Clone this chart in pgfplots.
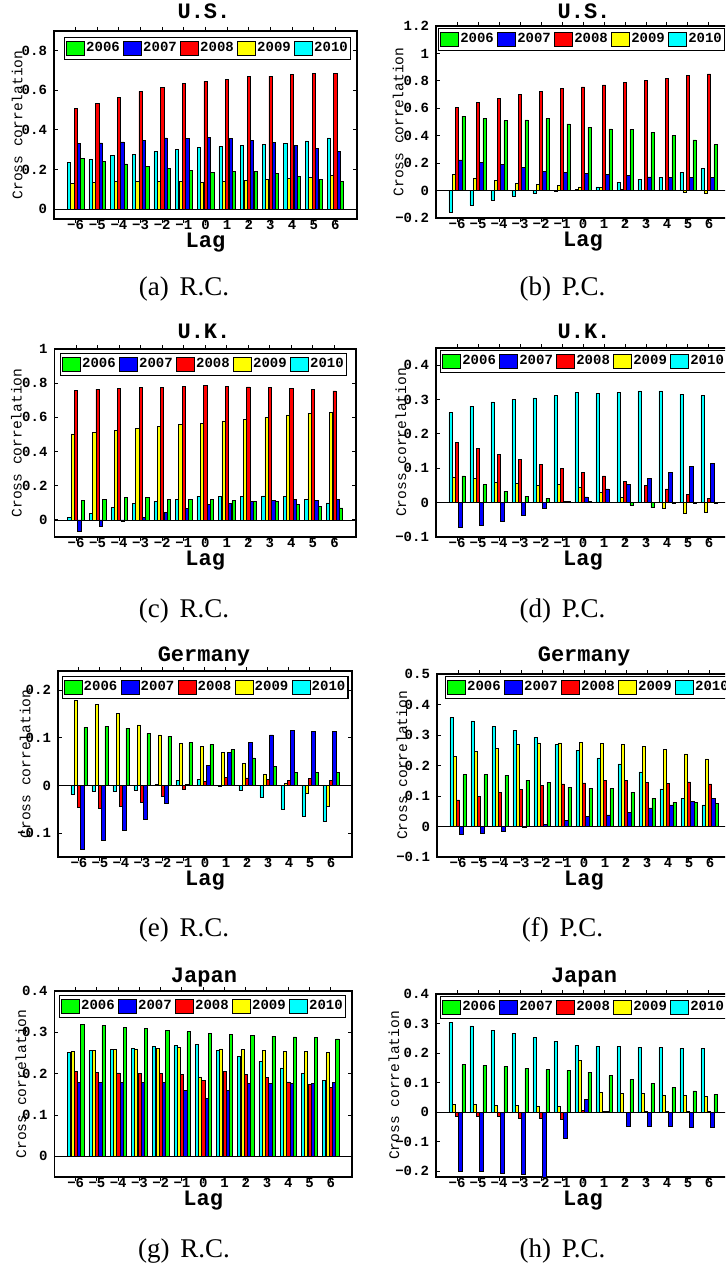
\documentclass[border=0pt]{standalone}
\usepackage{pgfplots}
\pgfplotsset{compat=1.18}
\usepackage{pgfplotstable}
\usepackage{fontspec}
\setmainfont{Liberation Serif}
\newfontfamily\mono{Liberation Mono}

\definecolor{g06}{RGB}{0,255,0}
\definecolor{b07}{RGB}{0,0,255}
\definecolor{r08}{RGB}{255,0,0}
\definecolor{y09}{RGB}{255,255,0}
\definecolor{c10}{RGB}{0,255,255}

% (a) U.S. R.C.
\pgfplotstableread{
lag y06 y07 y08 y09 y10
-6 0.255 0.33 0.51 0.13 0.235
-5 0.24 0.335 0.535 0.135 0.25
-4 0.228 0.34 0.565 0.14 0.27
-3 0.215 0.348 0.595 0.14 0.275
-2 0.205 0.36 0.615 0.14 0.29
-1 0.195 0.357 0.635 0.14 0.30
0 0.187 0.362 0.645 0.135 0.31
1 0.19 0.357 0.655 0.138 0.315
2 0.19 0.347 0.67 0.145 0.32
3 0.18 0.337 0.672 0.15 0.325
4 0.165 0.322 0.68 0.155 0.333
5 0.15 0.308 0.685 0.16 0.345
6 0.14 0.29 0.685 0.17 0.36
}\tabA
% (b) U.S. P.C.
\pgfplotstableread{
lag y06 y07 y08 y09 y10
-6 0.542 0.223 0.608 0.118 -0.157
-5 0.525 0.206 0.64 0.093 -0.108
-4 0.51 0.191 0.672 0.074 -0.069
-3 0.515 0.167 0.70 0.052 -0.039
-2 0.525 0.14 0.724 0.044 -0.022
-1 0.486 0.135 0.745 0.037 -0.003
0 0.46 0.125 0.756 0.027 0.007
1 0.45 0.12 0.77 0.025 0.027
2 0.447 0.113 0.79 0.012 0.059
3 0.425 0.10 0.805 0.003 0.081
4 0.40 0.097 0.82 0.0 0.098
5 0.37 0.095 0.837 -0.01 0.13
6 0.334 0.097 0.85 -0.02 0.162
}\tabB
% (c) U.K. R.C.
\pgfplotstableread{
lag y06 y07 y08 y09 y10
-6 0.116 -0.068 0.76 0.503 0.015
-5 0.122 -0.039 0.765 0.513 0.039
-4 0.13 -0.01 0.771 0.523 0.074
-3 0.13 0.015 0.774 0.534 0.095
-2 0.122 0.043 0.776 0.546 0.108
-1 0.12 0.068 0.782 0.561 0.122
0 0.118 0.091 0.786 0.567 0.139
1 0.112 0.097 0.782 0.579 0.136
2 0.107 0.106 0.778 0.59 0.137
3 0.107 0.116 0.774 0.602 0.141
4 0.091 0.118 0.77 0.614 0.137
5 0.081 0.112 0.765 0.625 0.118
6 0.07 0.118 0.755 0.631 0.099
}\tabC
% (d) U.K. P.C.
\pgfplotstableread{
lag y06 y07 y08 y09 y10
-6 0.078 -0.071 0.175 0.075 0.262
-5 0.052 -0.066 0.157 0.07 0.281
-4 0.033 -0.054 0.14 0.06 0.293
-3 0.019 -0.038 0.125 0.055 0.30
-2 0.013 -0.017 0.111 0.05 0.305
-1 0.003 0.003 0.10 0.052 0.311
0 0.003 0.017 0.087 0.046 0.32
1 0.0 0.04 0.078 0.029 0.318
2 -0.008 0.053 0.062 0.015 0.32
3 -0.015 0.07 0.05 0.0 0.325
4 -0.002 0.088 0.04 -0.016 0.325
5 -0.001 0.105 0.025 -0.03 0.316
6 -0.002 0.115 0.012 -0.027 0.311
}\tabD
% (e) Germany R.C.
\pgfplotstableread{
lag y06 y07 y08 y09 y10
-6 0.122 -0.134 -0.046 0.178 -0.019
-5 0.124 -0.114 -0.047 0.17 -0.012
-4 0.12 -0.093 -0.044 0.151 -0.013
-3 0.109 -0.07 -0.036 0.127 -0.01
-2 0.103 -0.038 -0.022 0.106 0.002
-1 0.09 0.003 -0.008 0.088 0.011
0 0.086 0.042 0.008 0.082 0.012
1 0.075 0.07 0.017 0.07 -0.001
2 0.058 0.091 0.016 0.047 -0.011
3 0.04 0.106 0.013 0.023 -0.025
4 0.028 0.115 0.011 0.004 -0.05
5 0.027 0.114 0.014 -0.017 -0.064
6 0.027 0.113 0.011 -0.043 -0.076
}\tabE
% (f) Germany P.C.
\pgfplotstableread{
lag y06 y07 y08 y09 y10
-6 0.17 -0.025 0.087 0.23 0.357
-5 0.17 -0.022 0.099 0.245 0.346
-4 0.168 -0.015 0.111 0.255 0.327
-3 0.152 -0.003 0.122 0.268 0.315
-2 0.145 0.007 0.134 0.274 0.293
-1 0.128 0.02 0.14 0.274 0.268
0 0.126 0.032 0.143 0.277 0.25
1 0.124 0.038 0.15 0.273 0.225
2 0.113 0.046 0.15 0.27 0.205
3 0.093 0.061 0.145 0.262 0.179
4 0.079 0.071 0.142 0.252 0.123
5 0.08 0.083 0.146 0.238 0.093
6 0.077 0.092 0.14 0.222 0.071
}\tabF
% (g) Japan R.C.
\pgfplotstableread{
lag y06 y07 y08 y09 y10
-6 0.32 0.179 0.205 0.254 0.252
-5 0.316 0.178 0.203 0.256 0.256
-4 0.312 0.178 0.202 0.258 0.258
-3 0.309 0.178 0.2 0.26 0.261
-2 0.305 0.178 0.2 0.262 0.266
-1 0.302 0.16 0.199 0.264 0.268
0 0.298 0.141 0.184 0.192 0.271
1 0.295 0.16 0.205 0.26 0.256
2 0.293 0.177 0.199 0.258 0.242
3 0.291 0.177 0.191 0.257 0.229
4 0.289 0.177 0.18 0.254 0.214
5 0.287 0.177 0.174 0.253 0.2
6 0.284 0.179 0.167 0.251 0.184
}\tabG
% (h) Japan P.C.
\pgfplotstableread{
lag y06 y07 y08 y09 y10
-6 0.161 -0.199 -0.014 0.025 0.305
-5 0.158 -0.202 -0.015 0.025 0.292
-4 0.155 -0.208 -0.015 0.023 0.278
-3 0.148 -0.211 -0.02 0.022 0.266
-2 0.144 -0.22 -0.02 0.021 0.252
-1 0.141 -0.088 -0.023 0.02 0.24
0 0.135 0.042 0.005 0.175 0.226
1 0.123 0.001 0.001 0.066 0.223
2 0.11 -0.047 0.0 0.064 0.222
3 0.097 -0.048 0.001 0.063 0.22
4 0.083 -0.049 0.002 0.058 0.218
5 0.072 -0.05 0.002 0.056 0.216
6 0.06 -0.051 0.002 0.053 0.215
}\tabH

\newcommand\tickfont{\fontsize{7}{8}\selectfont\mono\bfseries}
\newcommand\titlefont{\fontsize{11}{12}\selectfont\mono\bfseries}
\newcommand\capfont{\fontsize{13.5}{15}\selectfont}

\pgfplotsset{
  mybar/.style={fill=#1, draw=black, line width=0.3pt,
    legend image code/.code={\draw[fill=#1,draw=black,line width=0.5pt] (0pt,-3.5pt) rectangle (9pt,3.5pt);}},
  panel/.style={
    scale only axis, anchor=south west,
    ybar, bar width=0.15,
    xmin=-7, xmax=7,
    xtick={-6,-5,...,6},
    xticklabels={−6,−5,−4,−3,−2,−1,0,1,2,3,4,5,6},
    tick label style={font=\tickfont, black},
    xticklabel style={anchor=base, yshift=-3.4pt},
    major tick length=2pt,
    tick style={black, line width=0.5pt},
    axis line style={black, line width=0.7pt},
    xlabel={Lag},
    xlabel style={font=\titlefont, at={(axis description cs:0.5,0)}, anchor=base, yshift=-14pt},
    ylabel={Cross correlation},
    ylabel style={font=\fontsize{7.3}{8}\selectfont\mono, anchor=center},
    legend columns=5,
    legend cell align=left,
    legend style={font=\tickfont, draw=black, line width=0.6pt, inner sep=0.8pt,
      anchor=north west, nodes={inner xsep=0.5pt, inner ysep=1.6pt},
      /tikz/every even column/.append style={column sep=1.2pt}},
  },
}

\newcommand\bars[1]{%
  \addplot[mybar=g06, bar shift=0.31] table[x=lag,y=y06]{#1};
  \addplot[mybar=b07, bar shift=0.155] table[x=lag,y=y07]{#1};
  \addplot[mybar=r08, bar shift=0] table[x=lag,y=y08]{#1};
  \addplot[mybar=y09, bar shift=-0.155] table[x=lag,y=y09]{#1};
  \addplot[mybar=c10, bar shift=-0.31] table[x=lag,y=y10]{#1};
  \legend{2006,2007,2008,2009,2010}
  \draw[black, line width=0.4pt] (axis cs:-7,0) -- (axis cs:7,0);
}

\begin{document}
\begin{tikzpicture}
\path[use as bounding box] (0pt,0pt) rectangle (362.5pt,-634pt);
\clip (0pt,0pt) rectangle (362.5pt,-634pt);

% (a)
\begin{axis}[panel, at={(27pt,-109.5pt)}, width=151.5pt, height=94pt,
  ymin=-0.05, ymax=0.9, ytick={0,0.2,0.4,0.6,0.8}, yticklabels={0,0.2,0.4,0.6,0.8},
  ylabel style={at={(axis description cs:-0.122,0.5)}},
  legend style={at={(axis description cs:0.033,0.968)}}]
\bars{\tabA}
\end{axis}
% (b)
\begin{axis}[panel, at={(218pt,-109pt)}, width=147pt, height=96pt,
  ymin=-0.2, ymax=1.2, ytick={-0.2,0,0.2,0.4,0.6,0.8,1,1.2}, yticklabels={−0.2,0,0.2,0.4,0.6,0.8,1,1.2},
  ylabel style={at={(axis description cs:-0.129,0.5)}},
  legend style={at={(axis description cs:0.007,0.99)}}]
\bars{\tabB}
\end{axis}
% (c)
\begin{axis}[panel, at={(27.25pt,-268.5pt)}, width=150.75pt, height=94pt,
  ymin=-0.1, ymax=1, ytick={0,0.2,0.4,0.6,0.8,1}, yticklabels={0,0.2,0.4,0.6,0.8,1},
  ylabel style={at={(axis description cs:-0.126,0.5)}},
  legend style={at={(axis description cs:0.018,0.979)}}]
\bars{\tabC}
\end{axis}
% (d)
\begin{axis}[panel, at={(218pt,-268.5pt)}, width=147pt, height=94.5pt,
  ymin=-0.1, ymax=0.45, ytick={-0.1,0,0.1,0.2,0.3,0.4}, yticklabels={−0.1,0,0.1,0.2,0.3,0.4},
  ylabel style={at={(axis description cs:-0.119,0.5)}},
  legend style={at={(axis description cs:0.014,0.989)}}]
\bars{\tabD}
\end{axis}
% (e)
\begin{axis}[panel, at={(29pt,-428.5pt)}, width=147pt, height=93pt,
  ymin=-0.15, ymax=0.24, ytick={-0.1,0,0.1,0.2}, yticklabels={−0.1,0,0.1,0.2},
  ylabel style={at={(axis description cs:-0.112,0.5)}},
  legend style={at={(axis description cs:0.012,0.973)}}]
\bars{\tabE}
\end{axis}
% (f)
\begin{axis}[panel, at={(218.5pt,-428.5pt)}, width=147pt, height=91.5pt,
  ymin=-0.1, ymax=0.5, ytick={-0.1,0,0.1,0.2,0.3,0.4,0.5}, yticklabels={−0.1,0,0.1,0.2,0.3,0.4,0.5},
  ylabel style={at={(axis description cs:-0.119,0.5)}},
  legend style={at={(axis description cs:0.027,0.989)}}]
\bars{\tabF}
\end{axis}
% (g)
\begin{axis}[panel, at={(27.25pt,-588.5pt)}, width=148.75pt, height=93pt,
  ymin=-0.05, ymax=0.4, ytick={0,0.1,0.2,0.3,0.4}, yticklabels={0,0.1,0.2,0.3,0.4},
  ylabel style={at={(axis description cs:-0.113,0.5)}},
  legend style={at={(axis description cs:0.015,0.978)}}]
\bars{\tabG}
\end{axis}
% (h)
\begin{axis}[panel, at={(218pt,-588.5pt)}, width=147pt, height=91.5pt,
  ymin=-0.22, ymax=0.4, ytick={-0.2,-0.1,0,0.1,0.2,0.3,0.4}, yticklabels={−0.2,−0.1,0,0.1,0.2,0.3,0.4},
  ylabel style={at={(axis description cs:-0.143,0.5)}},
  legend style={at={(axis description cs:0.014,0.989)}}]
\bars{\tabH}
\end{axis}

% titles
\node[font=\titlefont, anchor=base] at (102pt,-9.5pt) {U.S.};
\node[font=\titlefont, anchor=base] at (292pt,-9.5pt) {U.S.};
\node[font=\titlefont, anchor=base] at (102pt,-169pt) {U.K.};
\node[font=\titlefont, anchor=base] at (292pt,-169pt) {U.K.};
\node[font=\titlefont, anchor=base] at (102pt,-330.5pt) {Germany};
\node[font=\titlefont, anchor=base] at (292pt,-330.5pt) {Germany};
\node[font=\titlefont, anchor=base] at (102pt,-491pt) {Japan};
\node[font=\titlefont, anchor=base] at (292pt,-491pt) {Japan};

% captions
\node[font=\capfont, anchor=base] at (92pt,-147.5pt) {(a)\hspace{0.4em}R.C.};
\node[font=\capfont, anchor=base] at (281.25pt,-147.5pt) {(b)\hspace{0.4em}P.C.};
\node[font=\capfont, anchor=base] at (92pt,-308.5pt) {(c)\hspace{0.4em}R.C.};
\node[font=\capfont, anchor=base] at (281.25pt,-308.5pt) {(d)\hspace{0.4em}P.C.};
\node[font=\capfont, anchor=base] at (92pt,-468pt) {(e)\hspace{0.4em}R.C.};
\node[font=\capfont, anchor=base] at (281.25pt,-468pt) {(f)\hspace{0.4em}P.C.};
\node[font=\capfont, anchor=base] at (92pt,-628.5pt) {(g)\hspace{0.4em}R.C.};
\node[font=\capfont, anchor=base] at (281.25pt,-628.5pt) {(h)\hspace{0.4em}P.C.};
\end{tikzpicture}
\end{document}
